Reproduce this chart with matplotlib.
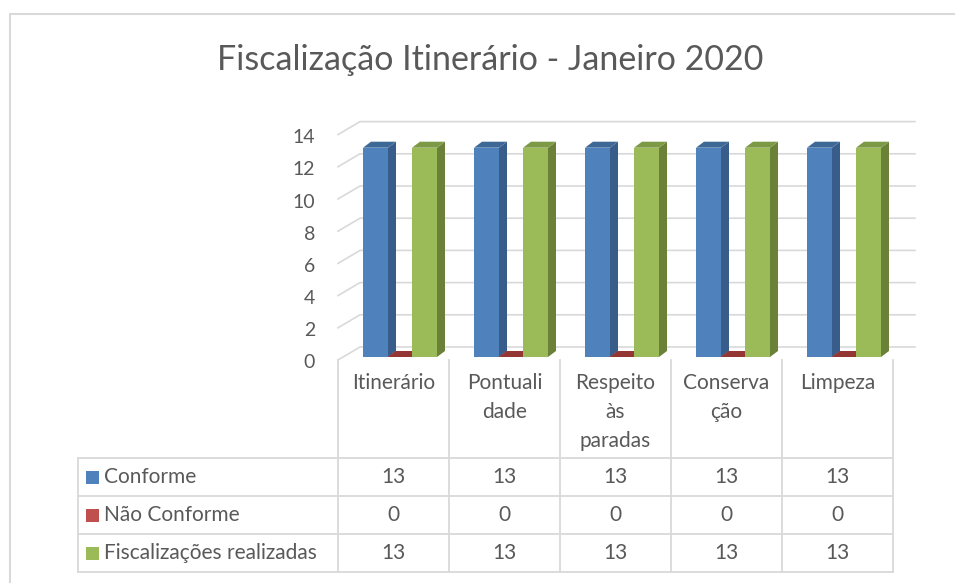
import numpy as np
import matplotlib
matplotlib.use("Agg")
import matplotlib.pyplot as plt
from matplotlib.patches import Polygon, Rectangle

plt.rcParams['font.family'] = ['Lato', 'DejaVu Sans']

title = "Fiscalização Itinerário - Janeiro 2020"
categories = ["Itinerário", "Pontuali\ndade", "Respeito\nàs\nparadas", "Conserva\nção", "Limpeza"]
series_names = ["Conforme", "Não Conforme", "Fiscalizações realizadas"]
conforme = [13, 13, 13, 13, 13]
nao_conforme = [0, 0, 0, 0, 0]
realizadas = [13, 13, 13, 13, 13]
series = [conforme, nao_conforme, realizadas]
yticks = [0, 2, 4, 6, 8, 10, 12, 14]

front = ["#4F81BD", "#C0504D", "#9BBB59"]
side = ["#385D8A", "#8C3836", "#6B8138"]
top = ["#3E6896", "#943634", "#7C9A45"]
grid_c = "#D9D9D9"
txt_c = "#595959"

W, H = 955, 583
fig = plt.figure(figsize=(W / 100, H / 100), dpi=100)

# pixel overlay for frame, title, table
fa = fig.add_axes([0, 0, 1, 1])
fa.set_xlim(0, W)
fa.set_ylim(H, 0)
fa.axis("off")

# plot axes: front plane, x in categories, y in values
n = len(categories)
px_left, px_right = 338, 893
cw = (px_right - px_left) / n
upx = 16.1
y0 = 360
ax = fig.add_axes([px_left / W, (H - y0) / H, (px_right - px_left) / W, 14 * upx / H])
ax.set_xlim(-0.5, n - 0.5)
ax.set_ylim(0, 14)
ax.axis("off")

DX, DY = 22 / cw, 13 / upx          # full depth of the box
OX, OY = 6.5 / cw, 3 / upx          # plane of the bars
BDX, BDY = 8 / cw, 6 / upx          # bar depth
bw = 25 / cw
offs = [-24.5 / cw, 0, 24.5 / cw]

# back wall gridlines
for v in yticks:
    ax.plot([-0.5, -0.5 + DX, n - 0.5 + DX], [v, v + DY, v + DY],
            color=grid_c, lw=1.2, clip_on=False, zorder=1)
    ax.text(-0.5 - 23 / cw, v - 3 / upx, str(v), ha="right", va="center",
            fontsize=14, color=txt_c, clip_on=False)

# bars
x = np.arange(n)
for s, vals in enumerate(series):
    for i, v in enumerate(vals):
        xl = x[i] + offs[s] - bw / 2 + OX
        xr = xl + bw
        b = OY
        t = v + OY
        ax.add_patch(Polygon([[xr, b], [xr + BDX, b + BDY], [xr + BDX, t + BDY], [xr, t]],
                             closed=True, fc=side[s], ec="none", clip_on=False, zorder=3 + s))
        ax.add_patch(Polygon([[xl, t], [xl + BDX, t + BDY], [xr + BDX, t + BDY], [xr, t]],
                             closed=True, fc=top[s], ec="none", clip_on=False, zorder=3 + s))
    ax.bar(x + offs[s] + OX, np.array(vals), bottom=OY, width=bw, color=front[s],
           clip_on=False, zorder=3 + s)

# frame
fa.plot([10, 10, W], [H, 14, 14], color=grid_c, lw=1.5)

# title
fa.text(490, 60, title, ha="center", va="center", fontsize=24.5, color=txt_c)

# data table
col_edges = [px_left + cw * i for i in range(n + 1)]
rows = [458, 496, 534, 572]
tl = 78
for xe in col_edges:
    fa.plot([xe, xe], [360, rows[-1]], color=grid_c, lw=1.3)
fa.plot([tl, tl], [rows[0], rows[-1]], color=grid_c, lw=1.3)
for ye in rows:
    fa.plot([tl, px_right], [ye, ye], color=grid_c, lw=1.3)

for i, c in enumerate(categories):
    fa.text(col_edges[i] + cw / 2, 373, c, ha="center", va="top", fontsize=15,
            color=txt_c, linespacing=1.55)

for s, name in enumerate(series_names):
    yc = (rows[s] + rows[s + 1]) / 2
    fa.add_patch(Rectangle((86, yc - 6), 13, 13, fc=front[s], ec="none"))
    fa.text(104, yc, name, ha="left", va="center", fontsize=15, color=txt_c)
    for i, v in enumerate(series[s]):
        fa.text(col_edges[i] + cw / 2, yc, str(v), ha="center", va="center",
                fontsize=15, color=txt_c)

fig.savefig("out.png", dpi=100)
